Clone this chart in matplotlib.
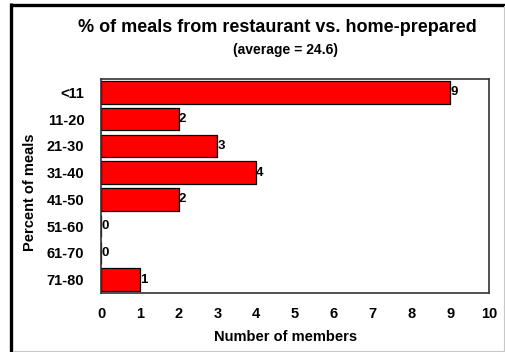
import matplotlib
matplotlib.use('Agg')
import matplotlib.pyplot as plt
from matplotlib.lines import Line2D

plt.rcParams['font.family'] = ['Liberation Sans', 'DejaVu Sans']
plt.rcParams['font.weight'] = 'bold'

# meal share buckets and how many members fall in each
categories = ['<11', '11-20', '21-30', '31-40', '41-50', '51-60', '61-70', '71-80']
members = [9, 2, 3, 4, 2, 0, 0, 1]
x_ticks = list(range(0, 11))

title = '% of meals from restaurant vs. home-prepared'
subtitle = '(average = 24.6)'

W, H = 506, 352
fig = plt.figure(figsize=(W / 100, H / 100), dpi=100)
fig.patch.set_facecolor('white')


def px(x, y):
    return x / W, 1 - y / H


ax = fig.add_axes([101 / W, 1 - 293 / H, (489 - 101) / W, (293 - 79) / H])
pos = list(range(len(categories)))
ax.barh(pos, members, height=0.85, color='#ff0000', edgecolor='black', linewidth=0.9)
for p, v in zip(pos, members):
    ax.text(v, p, str(v), ha='left', va='center', fontsize=9.5, fontweight='bold')

ax.set_xlim(0, 10)
ax.set_ylim(len(categories) - 0.5, -0.5)
ax.set_xticks(x_ticks)
ax.set_yticks(pos)
ax.set_yticklabels(categories)
ax.tick_params(axis='x', length=0, pad=10, labelsize=10.5)
ax.tick_params(axis='y', length=0, pad=12, labelsize=10.5)
for s in ax.spines.values():
    s.set_color('#333333')
    s.set_linewidth(1.2)

fig.text(*px(277, 28), title, ha='center', va='center', fontsize=13, fontweight='bold')
fig.text(*px(286, 50), subtitle, ha='center', va='center', fontsize=10, fontweight='bold')
fig.text(*px(286, 337), 'Number of members', ha='center', va='center', fontsize=10.5,
         fontweight='bold')
fig.text(*px(30, 192), 'Percent of meals', ha='center', va='center', rotation=90,
         fontsize=10.5, fontweight='bold')

# chart frame: heavy black on left/top, thin grey on right/bottom
fig.add_artist(Line2D([11.5 / W, 11.5 / W], [0, 1 - 3 / H], color='black', linewidth=2.4,
                      transform=fig.transFigure, solid_capstyle='butt'))
fig.add_artist(Line2D([10 / W, 505 / W], [1 - 4.5 / H, 1 - 4.5 / H], color='black', linewidth=2.4,
                      transform=fig.transFigure, solid_capstyle='butt'))
fig.add_artist(Line2D([504.5 / W, 504.5 / W], [0, 1 - 6 / H], color='#c8c8c8', linewidth=0.8,
                      transform=fig.transFigure))
fig.add_artist(Line2D([13 / W, 505 / W], [1 - 350.5 / H, 1 - 350.5 / H], color='#c8c8c8',
                      linewidth=0.8, transform=fig.transFigure))

fig.savefig('out.png', dpi=100)
